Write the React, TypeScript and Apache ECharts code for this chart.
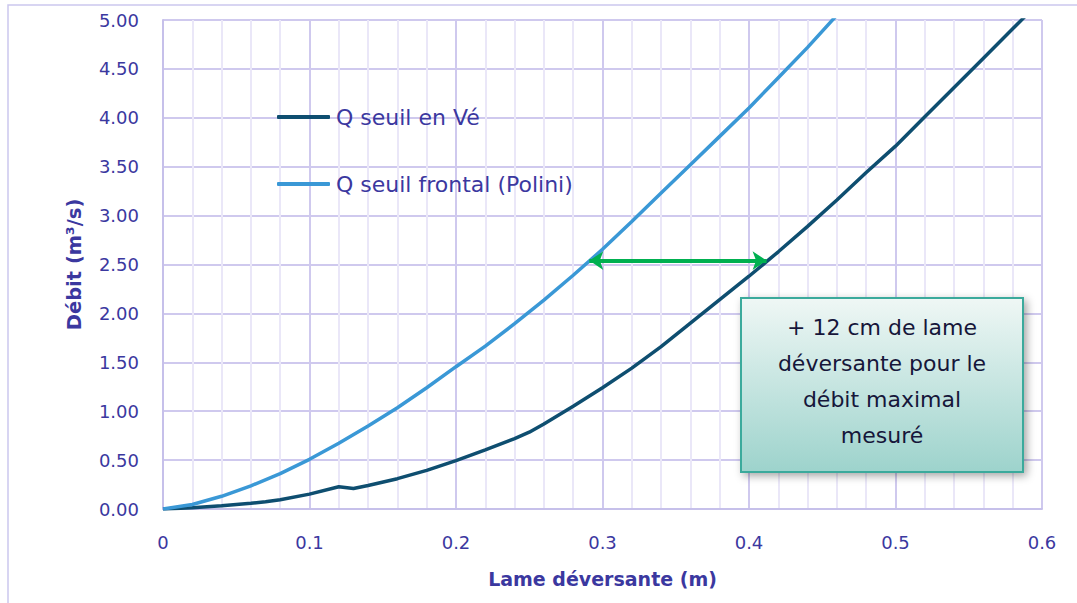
import React, { useEffect, useRef } from "react";
import * as echarts from "echarts";

// Lame déversante (m) / Débit (m³/s)
const hVe = [0, 0.02, 0.04, 0.06, 0.07, 0.08, 0.1, 0.12, 0.13, 0.14, 0.16, 0.18, 0.2, 0.22, 0.24, 0.25, 0.26, 0.28, 0.3, 0.32, 0.34, 0.36, 0.38, 0.4, 0.42, 0.44, 0.46, 0.48, 0.5, 0.52, 0.54, 0.56, 0.58, 0.6];
const qVe = [0, 0.012, 0.033, 0.058, 0.075, 0.095, 0.152, 0.228, 0.21, 0.24, 0.31, 0.395, 0.495, 0.605, 0.72, 0.785, 0.87, 1.05, 1.24, 1.44, 1.66, 1.9, 2.14, 2.38, 2.63, 2.89, 3.16, 3.44, 3.71, 4.01, 4.31, 4.61, 4.91, 5.21];

const hPolini = [0, 0.02, 0.04, 0.06, 0.08, 0.1, 0.12, 0.14, 0.16, 0.18, 0.2, 0.22, 0.24, 0.26, 0.28, 0.3, 0.32, 0.34, 0.36, 0.38, 0.4, 0.42, 0.44, 0.46];
const qPolini = [0, 0.046, 0.13, 0.237, 0.362, 0.508, 0.672, 0.848, 1.035, 1.24, 1.455, 1.665, 1.895, 2.135, 2.39, 2.655, 2.94, 3.23, 3.52, 3.81, 4.1, 4.41, 4.72, 5.05];

const seriesNames = ["Q seuil en Vé", "Q seuil frontal (Polini)"];
// Arrow between the two curves at the maximal measured flow
const arrowQ = 2.54;
const arrowFrom = 0.291;
const arrowTo = 0.412;
const noteLines = ["+ 12 cm de lame", "déversante pour le", "débit maximal", "mesuré"];

const FONT = "DejaVu Sans";
const TXT = "#3B389F";

export default function App() {
  const ref = useRef<HTMLDivElement>(null);
  useEffect(() => {
    if (!ref.current) return;
    const chart = echarts.init(ref.current, null, { renderer: "svg" });
    chart.setOption({
      animation: false,
      backgroundColor: "#ffffff",
      textStyle: { fontFamily: FONT },
      grid: { left: 163, top: 20, right: 35, bottom: 94, containLabel: false },
      legend: {
        orient: "vertical",
        left: 277,
        top: 106,
        padding: 0,
        icon: "roundRect",
        itemWidth: 53,
        itemHeight: 4,
        itemGap: 45,
        data: seriesNames,
        textStyle: { color: TXT, fontSize: 22, fontFamily: FONT, padding: [0, 0, 0, 1] },
      },
      xAxis: {
        type: "value",
        min: 0,
        max: 0.6,
        interval: 0.1,
        name: "Lame déversante (m)",
        nameLocation: "middle",
        nameGap: 60,
        nameTextStyle: { color: TXT, fontSize: 19, fontWeight: "bold", fontFamily: FONT },
        axisLine: { show: true, lineStyle: { color: "#C6C0EA", width: 2 } },
        axisTick: { show: false },
        axisLabel: {
          color: TXT,
          fontSize: 18,
          fontFamily: FONT,
          margin: 24,
          formatter: (v: number) => String(parseFloat(v.toFixed(1))),
        },
        splitLine: { show: true, lineStyle: { color: "#CFC9EE", width: 2 } },
        minorTick: { show: false, splitNumber: 5 },
        minorSplitLine: { show: true, lineStyle: { color: "#EAE7F8", width: 2 } },
      },
      yAxis: {
        type: "value",
        min: 0,
        max: 5,
        interval: 0.5,
        name: "Débit (m³/s)",
        nameLocation: "middle",
        nameGap: 79,
        nameTextStyle: { color: TXT, fontSize: 19.5, fontWeight: "bold", fontFamily: FONT },
        axisLine: { show: true, lineStyle: { color: "#C6C0EA", width: 2 } },
        axisTick: { show: false },
        axisLabel: {
          color: TXT,
          fontSize: 18,
          fontFamily: FONT,
          margin: 24,
          formatter: (v: number) => v.toFixed(2),
        },
        splitLine: { show: true, lineStyle: { color: "#CFC9EE", width: 2 } },
      },
      series: [
        {
          name: seriesNames[0],
          type: "line",
          symbol: "none",
          clip: true,
          lineStyle: { color: "#0E4E70", width: 3.5 },
          itemStyle: { color: "#0E4E70" },
          data: hVe.map((h, i) => [h, qVe[i]]),
          z: 3,
        },
        {
          name: seriesNames[1],
          type: "line",
          symbol: "none",
          clip: true,
          lineStyle: { color: "#3A98D6", width: 3.5 },
          itemStyle: { color: "#3A98D6" },
          data: hPolini.map((h, i) => [h, qPolini[i]]),
          z: 3,
          markLine: {
            silent: true,
            symbol: ["arrow", "arrow"],
            symbolSize: [14, 14],
            label: { show: false },
            lineStyle: { color: "#00B050", width: 4, type: "solid" },
            data: [[{ coord: [arrowFrom, arrowQ] }, { coord: [arrowTo, arrowQ] }]],
          },
        },
      ],
      graphic: [
        {
          type: "rect",
          silent: true,
          z: -10,
          shape: { x: 8, y: 5, width: 1100, height: 700 },
          style: { fill: "none", stroke: "#CBC7EE", lineWidth: 1.5 },
        },
        {
          type: "rect",
          z: 100,
          shape: { x: 741, y: 298, width: 282, height: 174 },
          style: {
            fill: {
              type: "linear",
              x: 0,
              y: 0,
              x2: 0,
              y2: 1,
              colorStops: [
                { offset: 0, color: "#EFF7F5" },
                { offset: 1, color: "#9DD3CC" },
              ],
            },
            stroke: "#3BAA9C",
            lineWidth: 2,
            shadowBlur: 8,
            shadowOffsetX: 3,
            shadowOffsetY: 3,
            shadowColor: "rgba(0,0,0,0.35)",
          },
        },
        {
          type: "text",
          z: 101,
          x: 882,
          y: 381,
          style: {
            text: noteLines.join("\n"),
            fill: "#16163A",
            font: `22px "${FONT}"`,
            lineHeight: 36,
            align: "center",
            verticalAlign: "middle",
          },
        },
      ],
    });
    return () => chart.dispose();
  }, []);
  return <div ref={ref} style={{ position: "fixed", left: 0, top: 0, width: 1077, height: 603 }} />;
}
